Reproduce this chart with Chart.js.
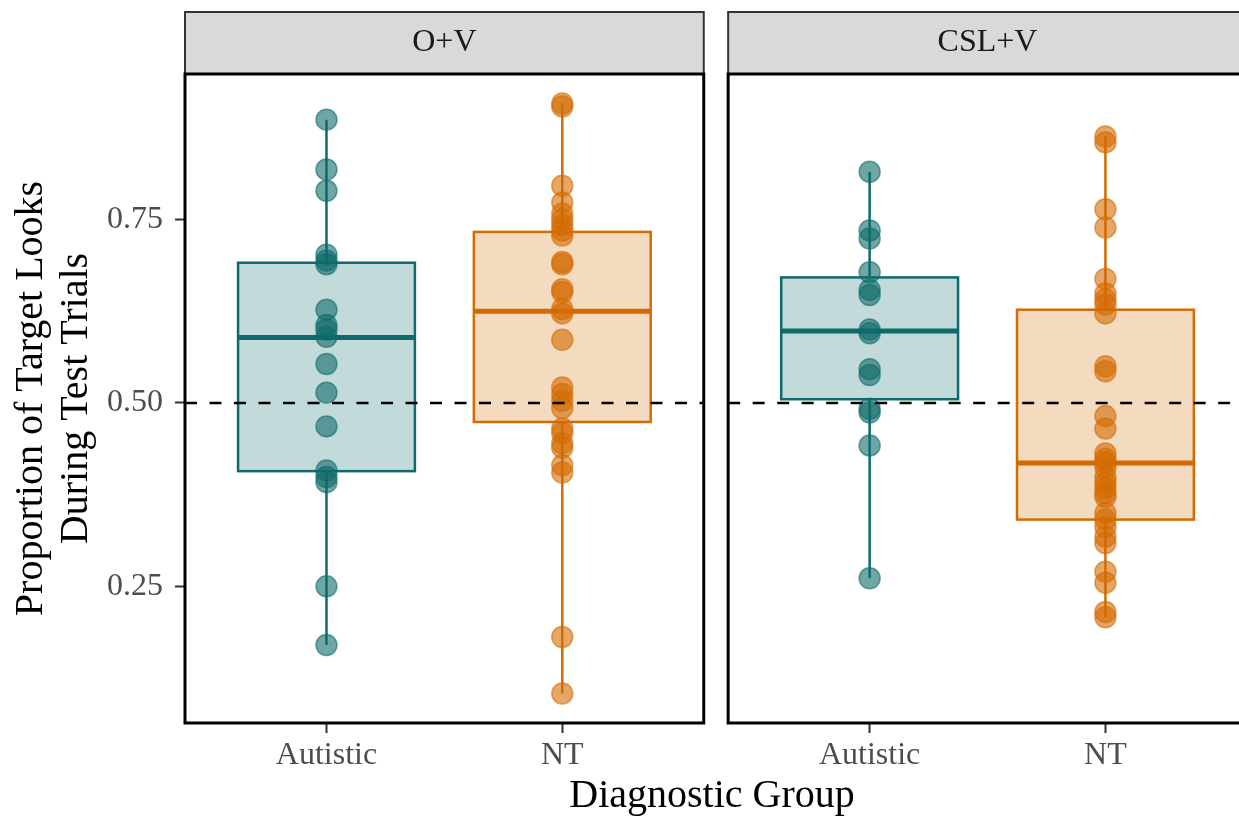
<!DOCTYPE html>
<html>
<head>
<meta charset="utf-8">
<script src="https://cdn.jsdelivr.net/npm/chart.js@4.4.0/dist/chart.umd.min.js"></script>
<style>
  body { margin: 0; background: #fff; }
  canvas { display: block; }
</style>
</head>
<body>
<canvas id="myChart" width="1239" height="820"></canvas>
<script>
var conditions = ['O+V', 'CSL+V'];
var groups = ['Autistic', 'NT'];
var yTicks = [0.25, 0.50, 0.75];
var chanceLevel = 0.5;

// proportion of target looks, one value per participant
var ovAutistic = [0.886, 0.818, 0.789, 0.702, 0.694, 0.689, 0.627, 0.606, 0.600, 0.590, 0.553, 0.514, 0.468, 0.408, 0.399, 0.392, 0.250, 0.170];
var ovNT = [0.908, 0.904, 0.796, 0.773, 0.758, 0.750, 0.742, 0.735, 0.728, 0.692, 0.689, 0.655, 0.651, 0.628, 0.622, 0.586, 0.521, 0.512, 0.503, 0.493, 0.465, 0.459, 0.445, 0.439, 0.415, 0.405, 0.181, 0.104];
var cslAutistic = [0.815, 0.735, 0.724, 0.678, 0.654, 0.647, 0.600, 0.595, 0.546, 0.538, 0.492, 0.487, 0.442, 0.261];
var cslNT = [0.863, 0.855, 0.764, 0.739, 0.669, 0.649, 0.641, 0.634, 0.622, 0.550, 0.543, 0.482, 0.465, 0.431, 0.424, 0.419, 0.412, 0.399, 0.391, 0.384, 0.377, 0.372, 0.350, 0.341, 0.331, 0.318, 0.309, 0.270, 0.255, 0.215, 0.208];

// box stats: [lower whisker, Q1, median, Q3, upper whisker]
var ovAutisticBox = [0.170, 0.407, 0.589, 0.691, 0.886];
var ovNTBox = [0.104, 0.474, 0.625, 0.733, 0.908];
var cslAutisticBox = [0.261, 0.505, 0.598, 0.671, 0.815];
var cslNTBox = [0.208, 0.341, 0.418, 0.627, 0.863];

var points = [[ovAutistic, ovNT], [cslAutistic, cslNT]];
var boxes = [[ovAutisticBox, ovNTBox], [cslAutisticBox, cslNTBox]];

var colors = ['#0F6B6B', '#D36B00'];
var pointColors = ['rgba(15,107,107,0.6)', 'rgba(211,107,0,0.6)'];
var boxFills = ['rgba(15,107,107,0.25)', 'rgba(211,107,0,0.25)'];

var FONT = "'Liberation Serif', 'Times New Roman', serif";
var PANEL_STEP = 2.3035;   // 2.2 units of panel plus the gap between facets
var BOX_W = 0.75;
var X_MIN = 0.4, X_MAX = 4.87;

// y limits like ggplot: data range plus 5% each side
var all = [].concat(ovAutistic, ovNT, cslAutistic, cslNT);
var yLo = Math.min.apply(null, all);
var yHi = Math.max.apply(null, all);
var yPad = (yHi - yLo) * 0.05;

var xTicks = [];
var xLabels = [];
var datasets = [];
for (var p = 0; p < conditions.length; p++) {
    for (var g = 0; g < groups.length; g++) {
        var xv = g + 1 + p * PANEL_STEP;
        xTicks.push(xv);
        xLabels.push(groups[g]);
        datasets.push({
            label: conditions[p] + ' ' + groups[g],
            data: points[p][g].map(function(v) { return { x: xv, y: v }; }),
            backgroundColor: pointColors[g],
            borderColor: pointColors[g],
            borderWidth: 1.5,
            pointRadius: 10.5
        });
    }
}

var facetPlugin = {
    id: 'facets',
    beforeDatasetsDraw: function(chart) {
        var ctx = chart.ctx, x = chart.scales.x, y = chart.scales.y;
        ctx.save();
        for (var p = 0; p < conditions.length; p++) {
            for (var g = 0; g < groups.length; g++) {
                var b = boxes[p][g];
                var c = g + 1 + p * PANEL_STEP;
                var cx = x.getPixelForValue(c);
                var l = x.getPixelForValue(c - BOX_W / 2);
                var r = x.getPixelForValue(c + BOX_W / 2);
                var top = y.getPixelForValue(b[3]);
                var bot = y.getPixelForValue(b[1]);

                ctx.strokeStyle = colors[g];
                ctx.lineWidth = 2.5;
                ctx.beginPath();
                ctx.moveTo(cx, y.getPixelForValue(b[4]));
                ctx.lineTo(cx, top);
                ctx.moveTo(cx, bot);
                ctx.lineTo(cx, y.getPixelForValue(b[0]));
                ctx.stroke();

                ctx.fillStyle = boxFills[g];
                ctx.fillRect(l, top, r - l, bot - top);
                ctx.strokeRect(l, top, r - l, bot - top);

                ctx.lineWidth = 5;
                ctx.beginPath();
                ctx.moveTo(l, y.getPixelForValue(b[2]));
                ctx.lineTo(r, y.getPixelForValue(b[2]));
                ctx.stroke();
            }
        }
        ctx.restore();
    },
    afterDatasetsDraw: function(chart) {
        var ctx = chart.ctx, x = chart.scales.x, y = chart.scales.y;
        var yy = y.getPixelForValue(chanceLevel);
        ctx.save();
        ctx.strokeStyle = '#000';
        ctx.lineWidth = 2.5;
        ctx.setLineDash([12, 12.5]);
        for (var p = 0; p < conditions.length; p++) {
            ctx.beginPath();
            ctx.moveTo(x.getPixelForValue(X_MIN + p * PANEL_STEP), yy);
            ctx.lineTo(x.getPixelForValue(2.6 + p * PANEL_STEP), yy);
            ctx.stroke();
        }
        ctx.restore();
    },
    afterDraw: function(chart) {
        var ctx = chart.ctx, x = chart.scales.x, area = chart.chartArea;
        ctx.save();
        for (var p = 0; p < conditions.length; p++) {
            var l = x.getPixelForValue(X_MIN + p * PANEL_STEP);
            var r = x.getPixelForValue(2.6 + p * PANEL_STEP);
            var stripTop = 12;

            ctx.fillStyle = '#D9D9D9';
            ctx.fillRect(l, stripTop, r - l, area.top - stripTop);
            ctx.strokeStyle = '#333333';
            ctx.lineWidth = 2;
            ctx.strokeRect(l, stripTop, r - l, area.top - stripTop);

            ctx.fillStyle = '#1A1A1A';
            ctx.font = '32px ' + FONT;
            ctx.textAlign = 'center';
            ctx.textBaseline = 'middle';
            ctx.fillText(conditions[p], x.getPixelForValue(1.5 + p * PANEL_STEP), (stripTop + area.top) / 2);

            ctx.strokeStyle = '#000';
            ctx.lineWidth = 3;
            ctx.strokeRect(l, area.top, r - l, area.bottom - area.top);
        }
        ctx.restore();
    }
};

var ctx = document.getElementById('myChart').getContext('2d');
var chart = new Chart(ctx, {
    type: 'scatter',
    data: { datasets: datasets },
    plugins: [facetPlugin],
    options: {
        responsive: false,
        animation: false,
        layout: { autoPadding: false, padding: { top: 74, right: 0, bottom: 0, left: 0 } },
        plugins: {
            legend: { display: false },
            tooltip: { enabled: false }
        },
        scales: {
            x: {
                type: 'linear',
                bounds: 'data',
                min: X_MIN,
                max: X_MAX,
                afterFit: function(s) { s.height = 97; },
                afterBuildTicks: function(s) {
                    s.min = X_MIN;
                    s.max = X_MAX;
                    s.ticks = xTicks.map(function(v) { return { value: v }; });
                },
                ticks: {
                    autoSkip: false,
                    maxRotation: 0,
                    minRotation: 0,
                    padding: 3,
                    color: '#4D4D4D',
                    font: { family: FONT, size: 32 },
                    callback: function(value, index) { return xLabels[index]; }
                },
                grid: { drawOnChartArea: false, drawTicks: true, tickLength: 10, tickColor: '#333333', tickWidth: 2 },
                border: { display: false },
                title: {
                    display: true,
                    text: 'Diagnostic Group',
                    color: '#000',
                    font: { family: FONT, size: 40, lineHeight: 1.125 },
                    padding: { top: 0, bottom: 1 }
                }
            },
            y: {
                type: 'linear',
                bounds: 'data',
                min: yLo - yPad,
                max: yHi + yPad,
                afterFit: function(s) { s.width = 185; },
                afterBuildTicks: function(s) {
                    s.min = yLo - yPad;
                    s.max = yHi + yPad;
                    s.ticks = yTicks.map(function(v) { return { value: v }; });
                },
                ticks: {
                    padding: 12,
                    color: '#4D4D4D',
                    font: { family: FONT, size: 32 },
                    callback: function(value) { return value.toFixed(2); }
                },
                grid: { drawOnChartArea: false, drawTicks: true, tickLength: 10, tickColor: '#333333', tickWidth: 2 },
                border: { display: false },
                title: {
                    display: true,
                    text: ['Proportion of Target Looks', 'During Test Trials'],
                    color: '#000',
                    font: { family: FONT, size: 40, lineHeight: 1.125 },
                    padding: { top: 9, bottom: 0 }
                }
            }
        }
    }
});
</script>
</body>
</html>
